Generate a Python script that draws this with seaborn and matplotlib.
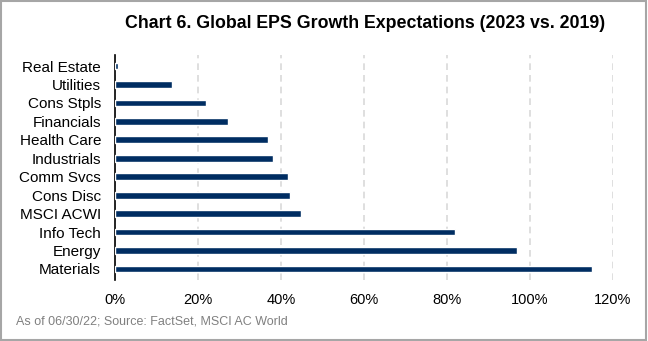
import matplotlib
matplotlib.use("Agg")
import matplotlib.pyplot as plt
import seaborn as sns
import pandas as pd
from matplotlib.ticker import FuncFormatter, MultipleLocator
from matplotlib.patches import Rectangle

sectors = ["Real Estate", "Utilities", "Cons Stpls", "Financials", "Health Care",
           "Industrials", "Comm Svcs", "Cons Disc", "MSCI ACWI", "Info Tech",
           "Energy", "Materials"]
growth = [0.7, 13.8, 21.9, 27.2, 36.9, 38.1, 41.8, 42.2, 44.7, 81.9, 96.9, 114.9]

df = pd.DataFrame({"sector": sectors, "growth": growth})

sns.set_theme(style="white")
plt.rcParams["font.family"] = ["Liberation Sans", "DejaVu Sans"]

fig = plt.figure(figsize=(6.48, 3.41), dpi=100)
ax = fig.add_axes([115 / 648, 1 - 280 / 341, (613 - 115) / 648, (280 - 55) / 341])

sns.barplot(data=df, x="growth", y="sector", color="#002D62", width=0.37,
            saturation=1, ax=ax, zorder=3)

ax.set_xlim(0, 120)
ax.xaxis.set_major_locator(MultipleLocator(20))
ax.xaxis.set_major_formatter(FuncFormatter(lambda v, _: f"{v:.0f}%"))
ax.grid(axis="x", color="#D9D9D9", linestyle=(0, (4, 3)), linewidth=1.2, zorder=0)
ax.set_xlabel("")
ax.set_ylabel("")
for side in ["top", "right", "bottom"]:
    ax.spines[side].set_visible(False)
ax.spines["left"].set_color("black")
ax.spines["left"].set_linewidth(1.2)
ax.tick_params(axis="y", length=0, labelsize=11, colors="black", pad=10)
ax.tick_params(axis="x", length=0, labelsize=10.5, colors="black", pad=9)
ax.set_ylim(11.6, -0.6)

fig.text(365 / 648, 1 - 23 / 341, "Chart 6. Global EPS Growth Expectations (2023 vs. 2019)",
         ha="center", va="center", fontsize=12.8, fontweight="bold", color="black")
fig.text(16 / 648, 1 - 321 / 341, "As of 06/30/22; Source: FactSet, MSCI AC World",
         ha="left", va="center", fontsize=9, color="#808080")

fig.patches.append(Rectangle((0.002, 0.003), 0.995, 0.994, transform=fig.transFigure,
                             fill=False, edgecolor="#A6A6A6", linewidth=1.5))

fig.savefig("out.png", dpi=100)
